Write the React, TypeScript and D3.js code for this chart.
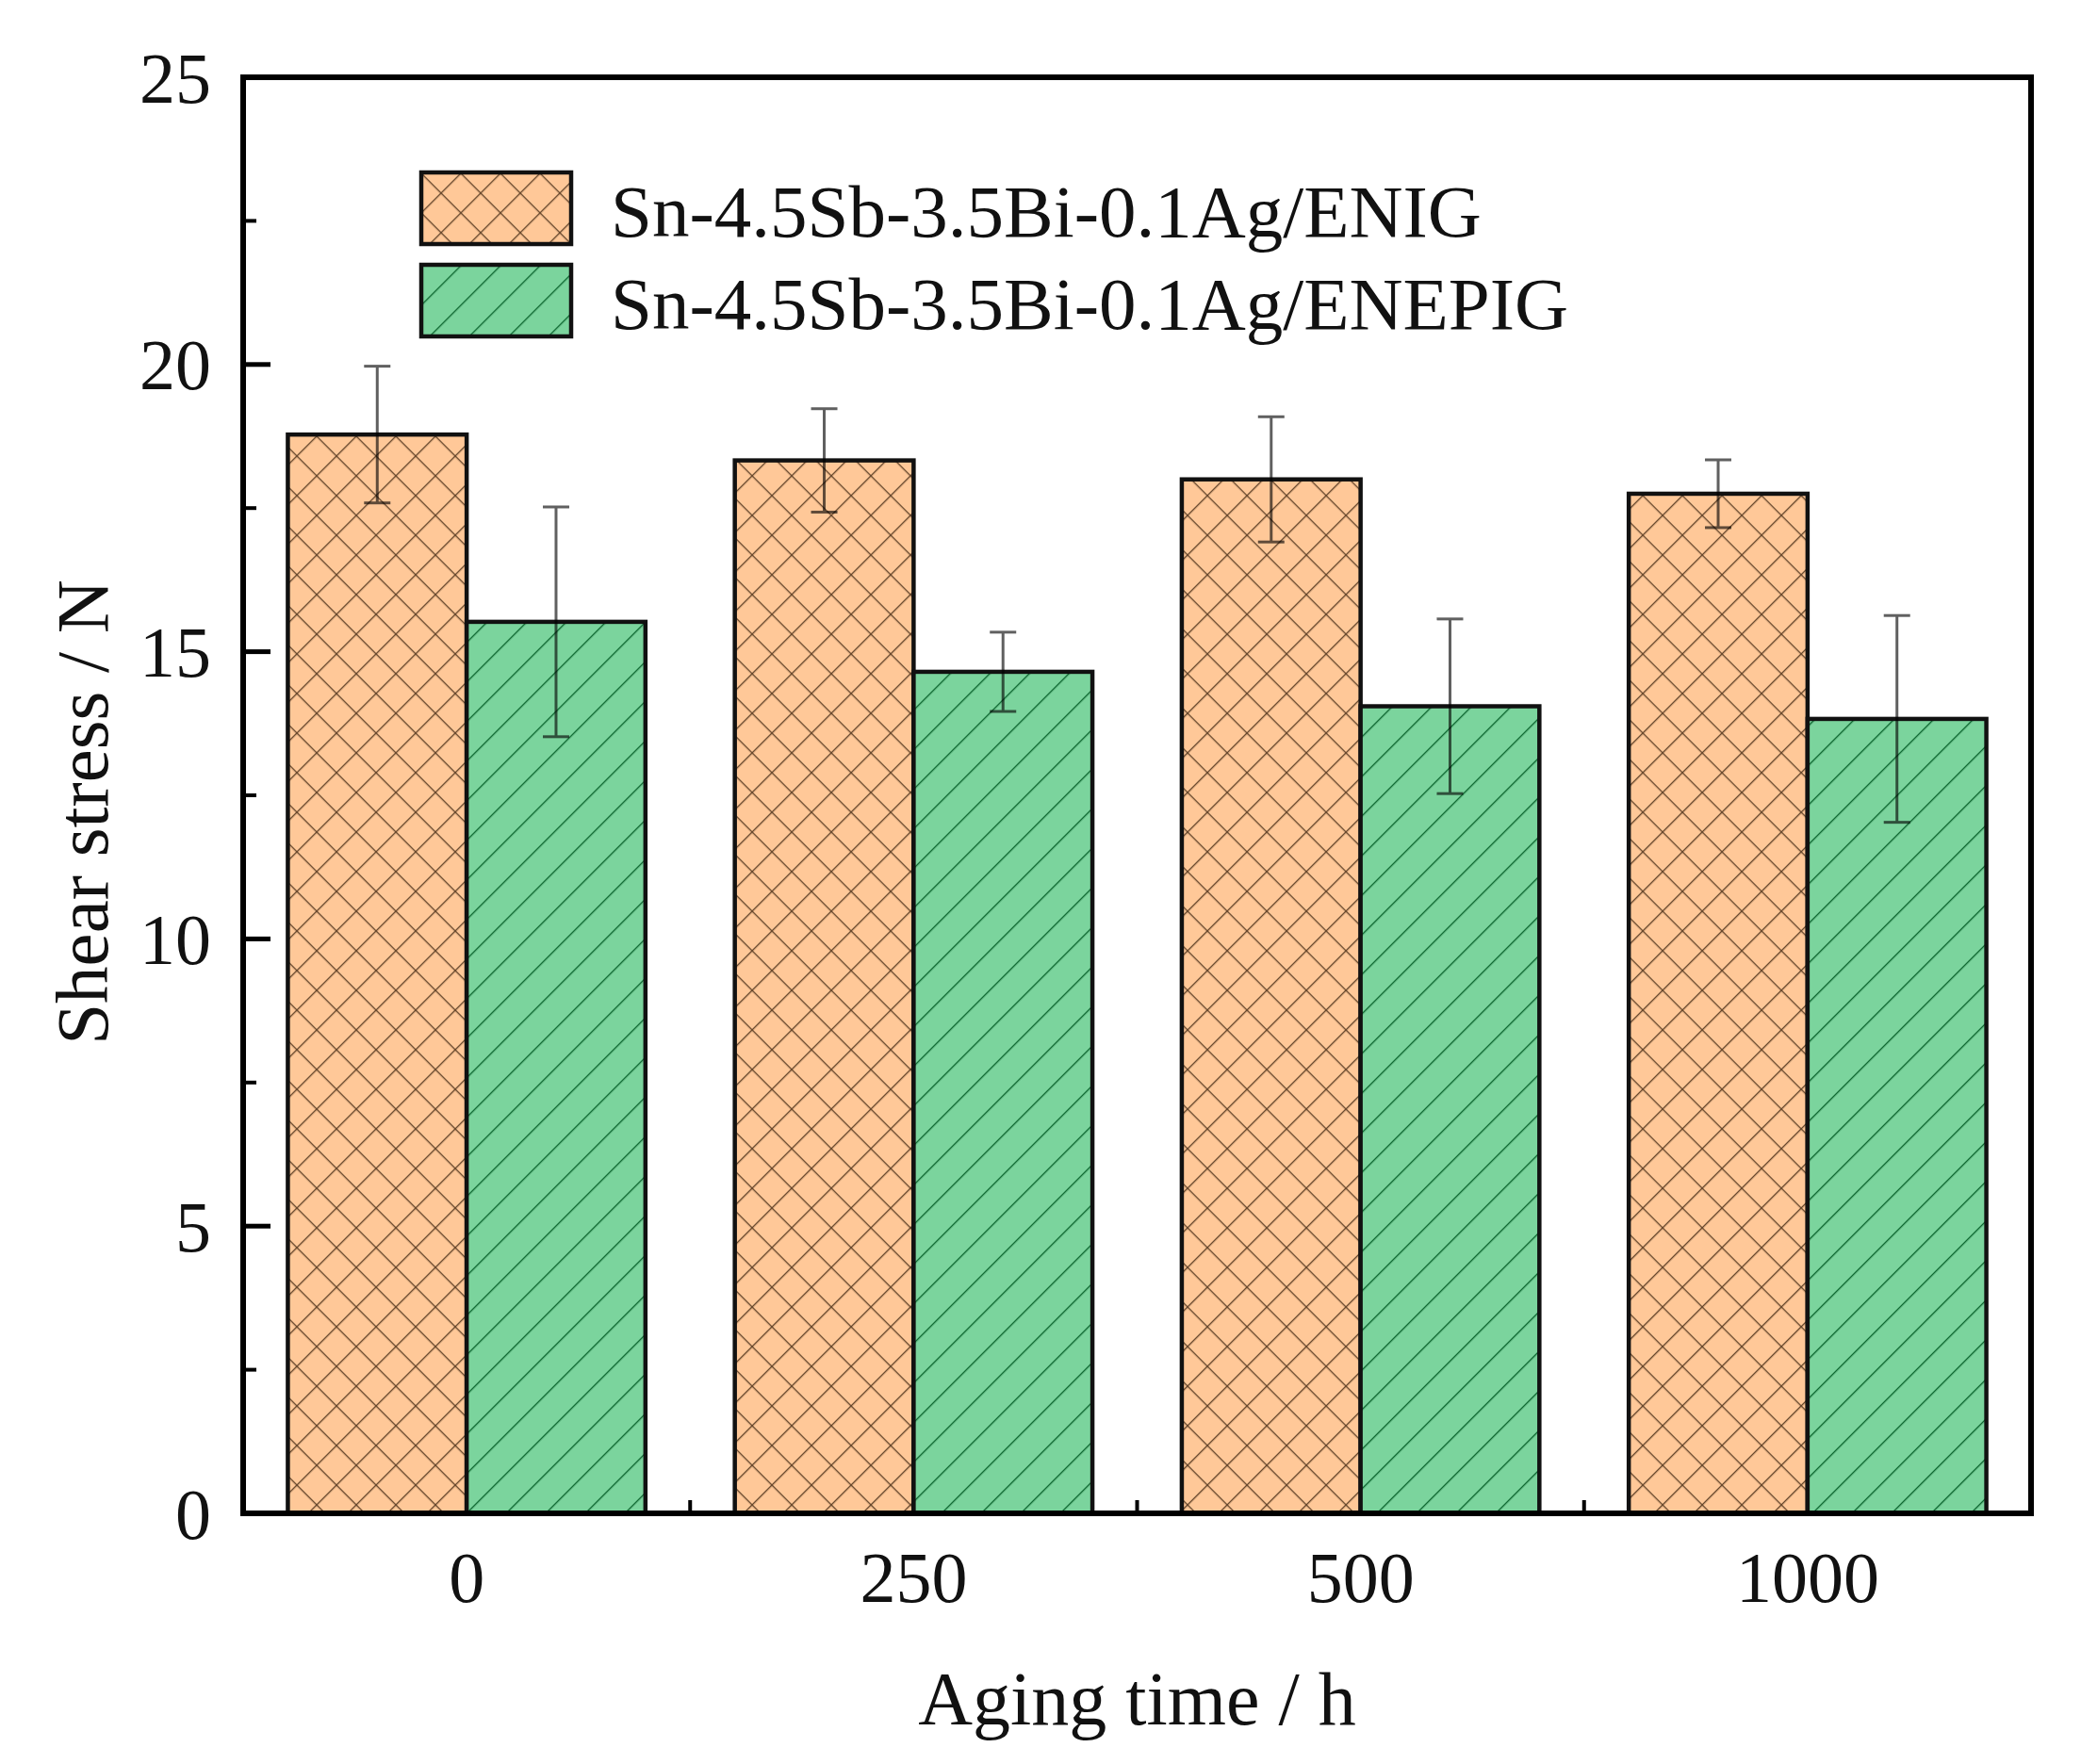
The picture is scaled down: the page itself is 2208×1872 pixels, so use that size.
import React from 'react';
import * as d3 from 'd3';

const categories = ['0', '250', '500', '1000'];
const seriesKeys = ['enig', 'enepig'];
const seriesNames = ['Sn-4.5Sb-3.5Bi-0.1Ag/ENIG', 'Sn-4.5Sb-3.5Bi-0.1Ag/ENEPIG'];
const enigValues = [18.78, 18.33, 18.0, 17.75];
const enigErrors = [1.19, 0.9, 1.09, 0.59];
const enepigValues = [15.52, 14.65, 14.05, 13.83];
const enepigErrors = [2.0, 0.69, 1.52, 1.8];
const yTicks = [0, 5, 10, 15, 20, 25];
const yMinorTicks = [2.5, 7.5, 12.5, 17.5, 22.5];
const xLabel = 'Aging time / h';
const yLabel = 'Shear stress / N';

const W = 2208;
const H = 1872;
const M = { left: 258, right: 2155, top: 82, bottom: 1606 };
const FONT = '"Liberation Serif", "Times New Roman", Times, serif';

const fills = ['url(#crossHatch)', 'url(#diagHatch)'];

export default function App() {
  const x = d3
    .scaleBand<string>()
    .domain(categories)
    .range([M.left, M.right])
    .paddingInner(0.2)
    .paddingOuter(0.1);
  const sub = d3.scaleBand<string>().domain(seriesKeys).range([0, x.bandwidth()]);
  const y = d3.scaleLinear().domain([0, 25]).range([M.bottom, M.top]);

  const values = [enigValues, enepigValues];
  const errors = [enigErrors, enepigErrors];

  const boundaries = categories.slice(0, -1).map(
    (c) => (x(c) as number) + x.bandwidth() + (x.step() * x.paddingInner()) / 2
  );

  return (
    <div style={{ position: 'absolute', left: 0, top: 0 }}>
      <svg width={W} height={H} style={{ display: 'block', background: '#fff' }}>
        <defs>
          <pattern
            id="crossHatch"
            patternUnits="userSpaceOnUse"
            width={29.7}
            height={29.7}
            patternTransform="rotate(45)"
          >
            <rect width={29.7} height={29.7} fill="#FFC898" />
            <line x1={0} y1={0} x2={29.7} y2={0} stroke="#5e4026" strokeWidth={2.6} />
            <line x1={0} y1={0} x2={0} y2={29.7} stroke="#5e4026" strokeWidth={2.6} />
          </pattern>
          <pattern
            id="diagHatch"
            patternUnits="userSpaceOnUse"
            width={29.7}
            height={29.7}
            patternTransform="rotate(-45)"
          >
            <rect width={29.7} height={29.7} fill="#7BD49D" />
            <line x1={0} y1={0} x2={29.7} y2={0} stroke="#08622b" strokeWidth={2.6} />
          </pattern>
        </defs>

        {/* bars */}
        {seriesKeys.map((k, si) =>
          categories.map((c, ci) => {
            const bx = (x(c) as number) + (sub(k) as number);
            const v = values[si][ci];
            return (
              <rect
                key={`${k}-${c}`}
                x={bx}
                y={y(v)}
                width={sub.bandwidth()}
                height={y(0) - y(v)}
                fill={fills[si]}
                stroke="#111"
                strokeWidth={4.5}
              />
            );
          })
        )}

        {/* error bars */}
        {seriesKeys.map((k, si) =>
          categories.map((c, ci) => {
            const cx = (x(c) as number) + (sub(k) as number) + sub.bandwidth() / 2;
            const v = values[si][ci];
            const e = errors[si][ci];
            const cap = 14;
            return (
              <g
                key={`err-${k}-${c}`}
                stroke="#606060"
                strokeWidth={3}
                style={{ mixBlendMode: 'multiply' }}
              >
                <line x1={cx} x2={cx} y1={y(v + e)} y2={y(v - e)} />
                <line x1={cx - cap} x2={cx + cap} y1={y(v + e)} y2={y(v + e)} />
                <line x1={cx - cap} x2={cx + cap} y1={y(v - e)} y2={y(v - e)} />
              </g>
            );
          })
        )}

        {/* y ticks */}
        {yTicks.map((t) => (
          <g key={`yt-${t}`}>
            <line x1={M.left} x2={M.left + 29} y1={y(t)} y2={y(t)} stroke="#000" strokeWidth={5} />
            <text
              x={M.left - 34}
              y={y(t)}
              dy="0.35em"
              textAnchor="end"
              fontFamily={FONT}
              fontSize={76}
              fill="#111"
            >
              {t}
            </text>
          </g>
        ))}
        {yMinorTicks.map((t) => (
          <line
            key={`ym-${t}`}
            x1={M.left}
            x2={M.left + 14}
            y1={y(t)}
            y2={y(t)}
            stroke="#000"
            strokeWidth={4}
          />
        ))}

        {/* x ticks */}
        {boundaries.map((bx, i) => (
          <line key={`xm-${i}`} x1={bx} x2={bx} y1={M.bottom} y2={M.bottom - 14} stroke="#000" strokeWidth={4} />
        ))}
        {categories.map((c) => (
          <text
            key={`xl-${c}`}
            x={(x(c) as number) + x.bandwidth() / 2}
            y={1700}
            textAnchor="middle"
            fontFamily={FONT}
            fontSize={76}
            fill="#111"
          >
            {c}
          </text>
        ))}

        {/* frame */}
        <rect
          x={M.left}
          y={M.top}
          width={M.right - M.left}
          height={M.bottom - M.top}
          fill="none"
          stroke="#000"
          strokeWidth={6}
        />

        {/* axis labels */}
        <text
          x={(M.left + M.right) / 2}
          y={1830}
          textAnchor="middle"
          fontFamily={FONT}
          fontSize={80}
          fill="#111"
        >
          {xLabel}
        </text>
        <text
          transform={`translate(114, 862) rotate(-90)`}
          textAnchor="middle"
          fontFamily={FONT}
          fontSize={79}
          fill="#111"
        >
          {yLabel}
        </text>

        {/* legend */}
        {seriesNames.map((name, i) => (
          <g key={`lg-${i}`} transform={`translate(447, ${183 + i * 98})`}>
            <rect width={159} height={76} fill={fills[i]} stroke="#111" strokeWidth={4.5} />
            <text x={201} y={68} fontFamily={FONT} fontSize={79} fill="#111">
              {name}
            </text>
          </g>
        ))}
      </svg>
    </div>
  );
}
